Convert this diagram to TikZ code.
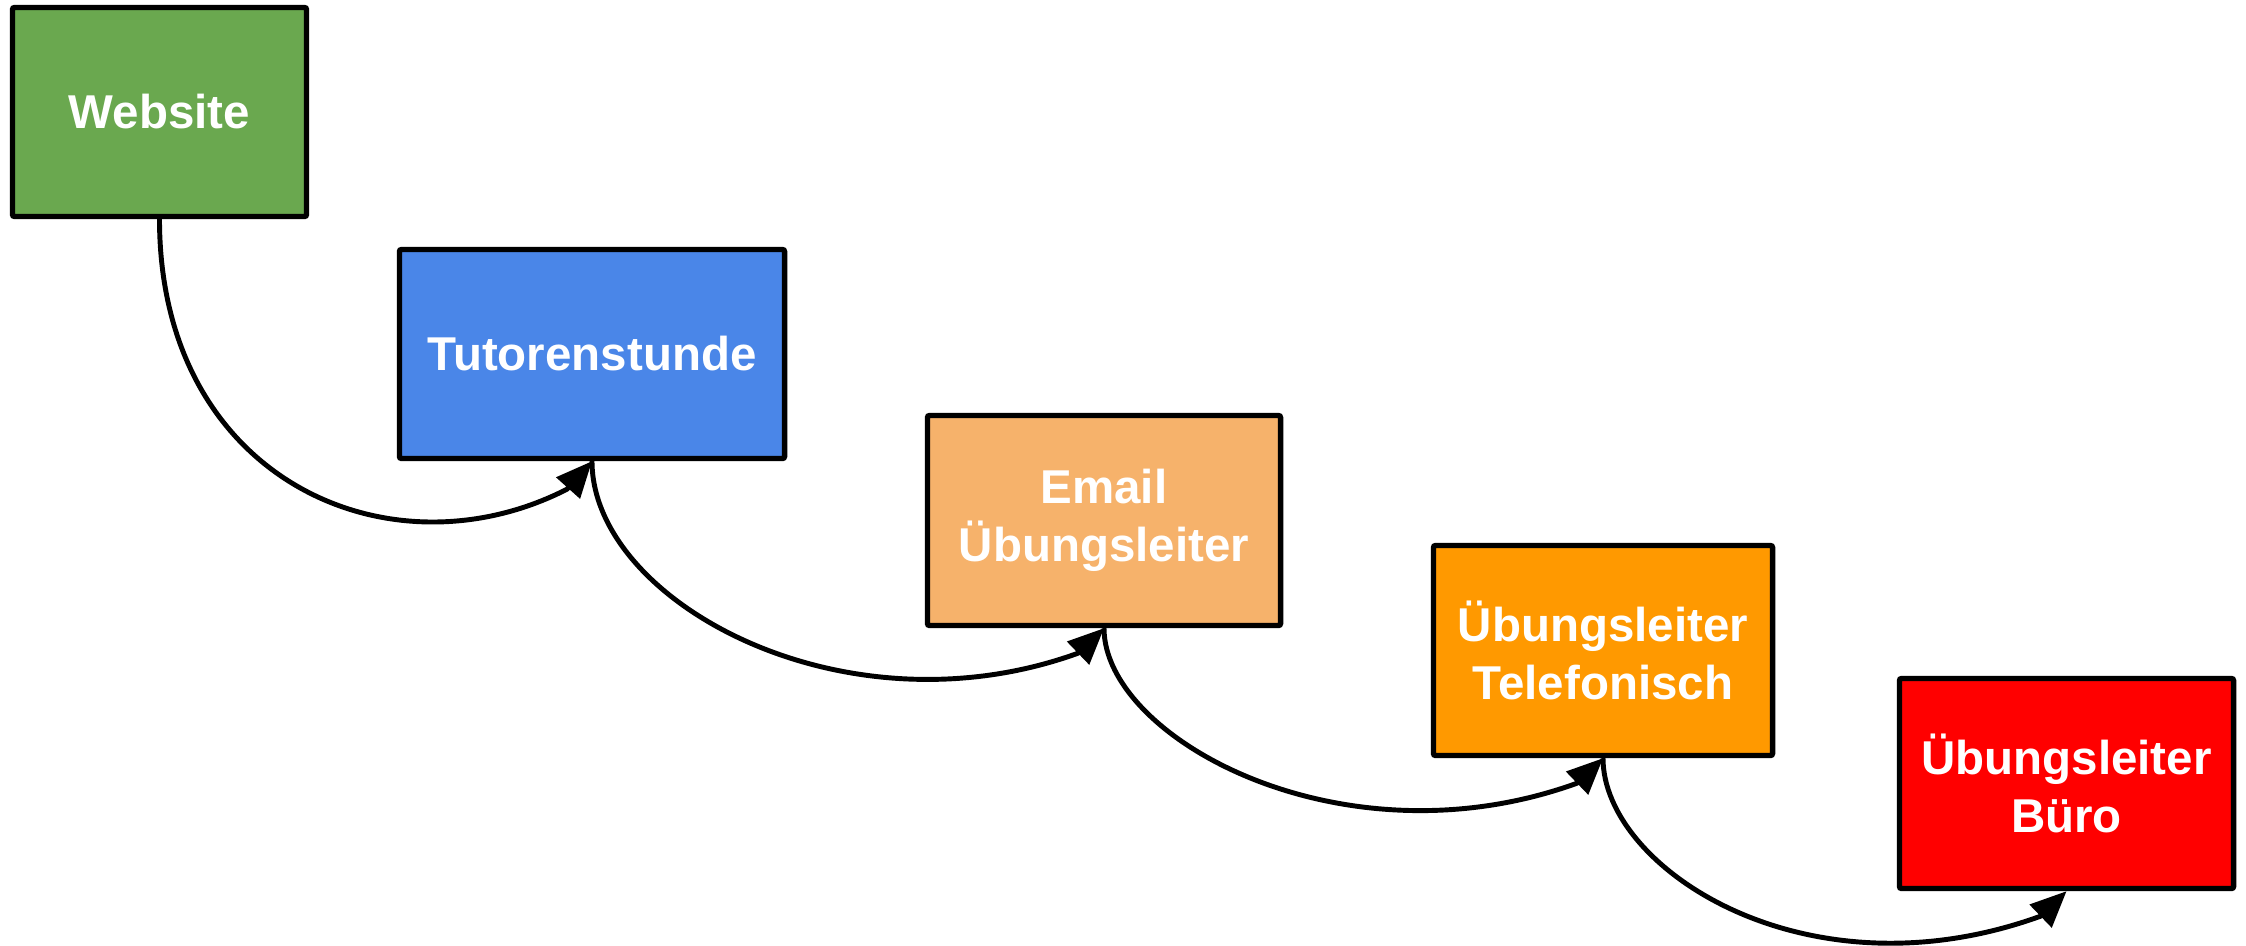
\documentclass[tikz,border=0pt]{standalone}
\usepackage{fontspec}
\setmainfont{Liberation Sans}
\usetikzlibrary{arrows.meta,calc}
\definecolor{cgreen}{HTML}{6AA84F}
\definecolor{cblue}{HTML}{4A86E8}
\definecolor{clorange}{HTML}{F6B26B}
\definecolor{corange}{HTML}{FF9900}
\definecolor{cred}{HTML}{FF0000}
\begin{document}
\begin{tikzpicture}[x=0.01cm,y=-0.01cm,
  box/.style={draw=black, line width=1.5pt, rounded corners=0.6pt, inner sep=0pt,
    text=white, align=center, font=\fontsize{13.5}{16.5}\selectfont\bfseries,
    minimum height=2.09cm},
  link/.style={draw=black, line width=1.4pt, -{Triangle[length=0.36cm,width=0.31cm]}}]
\useasboundingbox (0,0) rectangle (2246,945);
\node[box, fill=cgreen, minimum width=2.94cm] (web) at (159.5,112) {Website};
\node[box, fill=cblue, minimum width=3.85cm] (tut) at (592,354) {Tutorenstunde};
\node[box, fill=clorange, minimum width=3.53cm, minimum height=2.10cm] (mail) at (1104,520.5) {Email\\Übungsleiter};
\node[box, fill=corange, minimum width=3.39cm, minimum height=2.10cm] (tel) at (1603,650.5) {Übungsleiter\\Telefonisch};
\node[box, fill=cred, minimum width=3.34cm, minimum height=2.10cm] (buero) at (2066.5,783.5) {Übungsleiter\\Büro};
\draw[link] (web.south) .. controls +(0,260) and +(-178,91) .. ($(tut.south)+(-25,28)$) -- (tut.south);
\draw[link] (tut.south) .. controls +(0,140) and +(-235,85) .. ($(mail.south)+(-26,25)$) -- (mail.south);
\draw[link] (mail.south) .. controls +(0,110) and +(-235,85) .. ($(tel.south)+(-26,25)$) -- (tel.south);
\draw[link] (tel.south) .. controls +(0,110) and +(-235,85) .. ($(buero.south)+(-26,25)$) -- (buero.south);
\end{tikzpicture}
\end{document}
